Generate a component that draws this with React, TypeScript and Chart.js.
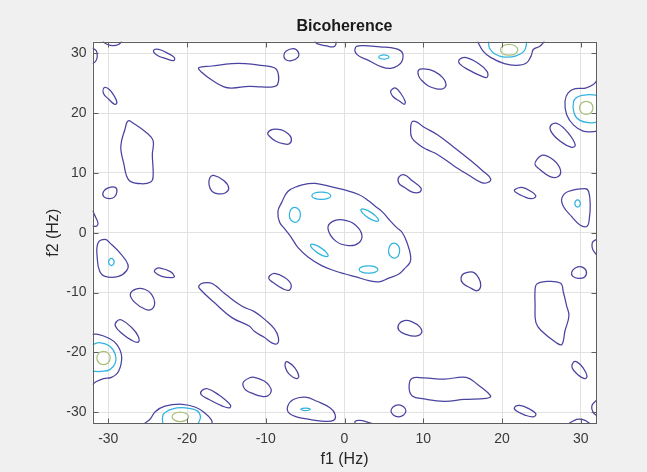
import React, { useEffect, useRef } from 'react';
import { Chart, registerables } from 'chart.js';

Chart.register(...registerables);

type Pt = [number, number];

// ---- axes ----
const xTicks = [-30, -20, -10, 0, 10, 20, 30];
const yTicks = [-30, -20, -10, 0, 10, 20, 30];
const xRange: Pt = [-32, 32];
const yRange: Pt = [-32, 32];

const titleText = 'Bicoherence';
const xLabel = 'f1 (Hz)';
const yLabel = 'f2 (Hz)';

// ---- level 1 (lowest) closed contours ----
const l1TopBar: Pt[] = [[-18.5, 27.6], [-16.8, 27.9], [-14.3, 28.3], [-12.6, 28.3], [-10.6, 28.0], [-8.9, 27.6], [-8.4, 26.5], [-8.5, 24.8], [-9.1, 24.4], [-10.6, 24.4], [-12.1, 24.5], [-14.3, 24.2], [-15.3, 24.4], [-16.8, 25.5], [-18.1, 26.8]];
const l1A: Pt[] = [[-24.25, 30.5], [-23.6, 30.7], [-22.55, 30.1], [-21.6, 29.3], [-21.7, 28.8], [-22.6, 29.1], [-23.8, 29.7]];
const l1B: Pt[] = [[-30.5, 24.3], [-29.9, 24.0], [-29.3, 23.0], [-28.9, 21.8], [-29.2, 21.5], [-29.9, 22.3], [-30.6, 23.3]];
const l1C: Pt[] = [[-27.5, 18.7], [-26.9, 18.4], [-25.1, 16.7], [-24.3, 15.4], [-24.4, 13.1], [-24.3, 9.4], [-24.6, 8.5], [-25.8, 8.2], [-27.2, 8.6], [-27.7, 9.6], [-28.0, 11.4], [-28.4, 13.9], [-28.3, 15.4], [-27.9, 17.2]];
const l1D: Pt[] = [[-16.6, 9.6], [-15.3, 8.7], [-14.7, 7.5], [-15.1, 6.7], [-16.0, 6.5], [-16.8, 6.9], [-17.2, 8.0], [-17.1, 9.2]];
const l1E: Pt[] = [[-30.6, 6.9], [-30.0, 7.5], [-29.1, 7.6], [-28.9, 6.9], [-29.2, 6.0], [-29.9, 5.7], [-30.6, 6.1]];
const l1F: Pt[] = [[-7.4, 30.4], [-6.5, 30.8], [-5.9, 30.3], [-5.9, 29.4], [-6.75, 28.8], [-7.5, 29.0], [-7.7, 29.7]];
const l1G: Pt[] = [[1.4, 31.0], [2.2, 31.3], [4.5, 31.1], [6.5, 30.8], [7.35, 30.1], [7.3, 28.7], [6.7, 27.9], [5.85, 27.5], [4.8, 27.7], [3.1, 28.8], [1.6, 29.8]];
const l1H: Pt[] = [[9.4, 27.2], [10.1, 27.4], [11.4, 27.0], [12.5, 25.9], [12.9, 24.8], [12.5, 24.1], [11.6, 24.1], [10.6, 24.6], [9.8, 25.5], [9.4, 26.3]];
const l1I: Pt[] = [[6.05, 24.0], [6.5, 24.2], [7.1, 23.4], [7.7, 22.0], [7.6, 21.5], [7.0, 22.0], [6.15, 22.8], [5.85, 23.6]];
const l1J: Pt[] = [[-9.75, 16.7], [-9.1, 17.3], [-8.0, 17.2], [-7.2, 16.6], [-6.75, 15.8], [-7.0, 14.9], [-7.8, 14.9], [-8.7, 15.3], [-9.5, 16.1]];
const l1DiagUp: Pt[] = [[8.6, 18.6], [9.2, 18.5], [10.1, 17.65], [11.8, 16.4], [14.0, 14.2], [16.1, 12.0], [17.6, 10.3], [18.55, 9.05], [18.2, 8.4], [17.4, 8.4], [15.7, 9.7], [14.0, 11.1], [11.8, 13.1], [10.5, 13.9], [9.5, 14.7], [8.55, 15.9], [8.4, 17.5]];
const l1K: Pt[] = [[6.9, 9.3], [7.6, 9.7], [8.6, 8.7], [9.7, 7.5], [9.55, 6.8], [8.6, 6.8], [7.6, 7.6], [6.9, 8.3]];
const l1Center: Pt[] = [[-8.45, 3.6], [-8.0, 5.0], [-7.2, 6.9], [-5.9, 7.8], [-4.6, 8.2], [-3.7, 8.25], [-2.0, 7.8], [-0.1, 7.2], [1.8, 6.4], [3.1, 5.3], [3.9, 4.45], [4.8, 3.5], [5.6, 2.3], [6.6, 0.9], [7.35, 0.0], [8.0, -1.9], [8.4, -3.9], [8.3, -5.0], [7.55, -6.1], [6.9, -6.9], [5.6, -7.6], [4.4, -8.2], [3.1, -8.0], [1.5, -7.4], [0.1, -6.9], [-1.2, -6.4], [-2.9, -5.5], [-4.6, -4.1], [-5.9, -2.5], [-6.75, -0.8], [-7.5, 0.5], [-8.25, 1.8]];
const l1CenterHole: Pt[] = [[-2.1, 0.7], [-1.5, 1.9], [-0.2, 2.15], [1.3, 1.4], [2.2, -0.3], [1.8, -1.7], [0.5, -2.15], [-1.1, -1.4]];
const l1L: Pt[] = [[14.6, 29.0], [15.45, 29.3], [16.9, 28.4], [18.1, 27.0], [18.1, 26.0], [17.4, 26.2], [15.7, 27.3], [14.6, 28.3]];
const l1M: Pt[] = [[26.3, 18.1], [27.15, 18.2], [28.4, 16.7], [29.3, 14.7], [28.85, 14.3], [27.4, 15.3], [26.2, 17.0]];
const l1N: Pt[] = [[24.4, 12.2], [25.2, 13.0], [26.5, 12.2], [27.4, 10.6], [27.15, 9.4], [26.1, 9.4], [24.8, 10.6], [24.2, 11.4]];
const l1O: Pt[] = [[21.6, 7.2], [22.5, 7.6], [23.7, 6.9], [24.3, 6.1], [23.7, 5.7], [22.7, 6.1], [21.7, 6.8]];
const l1P: Pt[] = [[27.6, 5.8], [28.4, 6.9], [30.55, 7.4], [31.0, 6.9], [31.2, 4.7], [31.1, 2.5], [30.8, 1.1], [29.9, 1.3], [28.85, 2.7], [27.8, 4.4]];
const l1Q: Pt[] = [[-31.3, -1.7], [-30.4, -1.1], [-29.8, -1.7], [-28.5, -3.4], [-27.5, -5.3], [-27.7, -6.4], [-28.7, -7.3], [-30.4, -7.3], [-31.1, -6.4], [-31.4, -4.2]];
const l1R: Pt[] = [[-24.0, -6.1], [-23.4, -5.9], [-22.1, -6.5], [-21.6, -7.3], [-21.9, -7.5], [-23.2, -7.3], [-24.1, -6.6]];
const l1S: Pt[] = [[-27.2, -10.3], [-26.4, -9.4], [-25.3, -9.5], [-24.5, -10.3], [-24.1, -11.7], [-24.5, -12.8], [-25.3, -12.8], [-26.6, -11.7]];
const l1T: Pt[] = [[-28.9, -14.8], [-28.3, -14.6], [-27.0, -15.9], [-26.2, -17.3], [-26.2, -18.3], [-27.0, -18.0], [-28.3, -16.8], [-29.1, -15.6]];
const l1DiagLow: Pt[] = [[-18.5, -8.9], [-17.9, -8.4], [-16.8, -8.5], [-15.1, -10.3], [-13.0, -12.3], [-11.45, -13.2], [-9.95, -14.7], [-8.9, -16.1], [-8.4, -17.5], [-8.5, -18.5], [-9.1, -18.5], [-10.2, -17.5], [-11.45, -16.5], [-12.1, -15.6], [-14.3, -14.2], [-16.6, -11.6], [-18.3, -9.5]];
const l1U: Pt[] = [[-18.1, -26.4], [-17.4, -26.1], [-16.0, -27.1], [-14.5, -28.8], [-14.6, -29.3], [-15.5, -29.0], [-17.2, -27.9], [-18.2, -27.1]];
const l1V: Pt[] = [[-12.8, -24.9], [-12.1, -24.3], [-11.45, -24.2], [-10.2, -24.8], [-9.55, -25.6], [-9.3, -26.5], [-9.75, -27.3], [-10.6, -27.35], [-11.45, -27.0], [-12.55, -26.3], [-12.9, -25.5]];
const l1W: Pt[] = [[-9.5, -7.2], [-8.9, -6.8], [-7.6, -7.5], [-6.8, -8.6], [-7.0, -9.6], [-7.8, -9.4], [-9.1, -8.3], [-9.6, -7.7]];
const l1X: Pt[] = [[-7.5, -21.7], [-7.2, -21.6], [-6.3, -22.6], [-5.8, -24.0], [-6.1, -24.4], [-7.0, -23.7], [-7.5, -22.6]];
const l1Y: Pt[] = [[-7.2, -29.0], [-6.5, -27.9], [-5.0, -27.5], [-3.5, -28.2], [-1.85, -29.3], [-1.2, -30.4], [-1.4, -31.4], [-2.9, -31.5], [-4.6, -31.2], [-6.1, -30.8], [-7.1, -30.1]];
const l1Z: Pt[] = [[6.9, -15.3], [7.6, -14.7], [8.6, -14.9], [9.55, -15.75], [9.8, -16.7], [9.05, -17.3], [7.8, -17.0], [6.9, -16.3]];
const l1BottomBar: Pt[] = [[8.55, -24.4], [10.1, -24.3], [12.7, -24.5], [15.45, -24.2], [16.9, -25.4], [18.55, -27.3], [18.0, -27.7], [15.2, -27.9], [12.7, -28.2], [10.1, -27.8], [8.6, -27.3], [8.2, -25.9]];
const l1AA: Pt[] = [[6.85, -28.8], [7.5, -29.1], [7.8, -29.8], [7.5, -30.5], [6.85, -30.8], [6.2, -30.5], [5.9, -29.8], [6.2, -29.1]];
const l1AB: Pt[] = [[14.8, -7.5], [15.2, -6.8], [16.3, -6.6], [17.05, -7.6], [17.3, -8.9], [16.85, -9.7], [16.1, -9.3], [15.0, -8.4]];
const l1AC: Pt[] = [[24.4, -8.6], [25.2, -8.2], [27.4, -8.4], [27.8, -10.0], [28.2, -12.2], [28.5, -13.9], [28.0, -16.4], [27.6, -18.7], [26.9, -18.4], [25.0, -16.4], [24.3, -15.0], [24.2, -12.0], [24.2, -9.5]];
const l1AD: Pt[] = [[28.85, -6.6], [29.3, -5.9], [30.1, -5.7], [30.7, -6.4], [30.5, -7.4], [29.7, -7.65], [29.0, -7.3]];
const l1AE: Pt[] = [[29.05, -21.7], [29.5, -21.6], [30.3, -22.6], [30.8, -24.0], [30.5, -24.4], [29.6, -23.7], [28.9, -22.6]];
const l1AF: Pt[] = [[21.6, -29.2], [22.25, -28.9], [23.5, -29.5], [24.3, -30.3], [24.0, -30.8], [22.9, -30.5], [21.8, -29.8]];

// ---- level 1 contours cut by the axes box ----
const l1EdgeTopL: Pt[] = [[-30.7, 32], [-30.1, 31.5], [-29.4, 31.3], [-28.7, 31.5], [-28.3, 32]];
const l1EdgeLeftT: Pt[] = [[-32, 30.9], [-31.5, 30.4], [-31.4, 29.5], [-31.6, 28.7], [-32, 28.3]];
const l1EdgeLeftM: Pt[] = [[-32, 3.7], [-31.6, 2.6], [-31.3, 1.6], [-31.5, 1.1], [-32, 1.1]];
const l1EdgeTopM: Pt[] = [[-3.8, 32], [-3.4, 31.6], [-2.4, 31.3], [-1.4, 31.1], [-1.1, 31.5], [-1.1, 32]];
const l1EdgeTopR: Pt[] = [[16.9, 32], [17.6, 30.4], [18.6, 29.3], [20.3, 28.3], [21.8, 28.0], [23.1, 28.4], [23.7, 29.6], [24.0, 30.7], [24.8, 31.2], [25.4, 32]];
const l1EdgeRightT: Pt[] = [[32, 25.4], [31.6, 24.8], [30.6, 24.2], [29.3, 24.1], [28.4, 23.4], [28.0, 22.0], [28.2, 19.8], [29.1, 18.0], [30.3, 17.0], [31.6, 16.9], [32, 17.0]];
const l1EdgeLeftB: Pt[] = [[-32, -17.0], [-31.3, -17.0], [-30.0, -17.6], [-28.9, -18.7], [-28.3, -20.7], [-28.7, -23.2], [-29.6, -24.2], [-30.6, -24.4], [-31.5, -24.9], [-32, -25.4]];
const l1EdgeBotL: Pt[] = [[-25.5, -32], [-24.7, -31.2], [-24.0, -29.9], [-22.8, -29.0], [-20.6, -28.7], [-18.9, -29.2], [-17.7, -30.2], [-16.9, -31.3], [-16.8, -32]];
const l1EdgeBotM: Pt[] = [[1.3, -32], [1.4, -31.5], [2.0, -31.4], [2.7, -31.6], [3.7, -32]];
const l1EdgeRightM: Pt[] = [[32, -1.1], [31.5, -1.6], [31.5, -2.7], [32, -3.7]];
const l1EdgeRightB: Pt[] = [[32, -28.0], [31.4, -29.0], [31.6, -30.1], [32, -30.6]];
const l1EdgeBotR: Pt[] = [[28.4, -32], [29.05, -31.5], [29.7, -31.2], [30.55, -31.4], [31.2, -32]];

// ---- level 2 contours ----
const l2A: Pt[] = [[-4.15, 6.2], [-3.8, 6.65], [-2.95, 6.8], [-2.1, 6.65], [-1.75, 6.2], [-2.1, 5.75], [-2.95, 5.6], [-3.8, 5.75]];
const l2B: Pt[] = [[-6.3, 4.25], [-5.75, 3.8], [-5.6, 3.0], [-5.8, 2.1], [-6.3, 1.75], [-6.85, 2.2], [-7.0, 3.0], [-6.8, 3.9]];
const l2C: Pt[] = [[4.3, 2.0], [4.12, 2.58], [3.41, 3.37], [2.58, 3.91], [2.1, 3.9], [2.28, 3.32], [2.99, 2.53], [3.82, 1.99]];
const l2D: Pt[] = [[-4.3, -2.0], [-4.12, -2.58], [-3.41, -3.37], [-2.58, -3.91], [-2.1, -3.9], [-2.28, -3.32], [-2.99, -2.53], [-3.82, -1.99]];
const l2E: Pt[] = [[6.3, -4.25], [5.75, -3.8], [5.6, -3.0], [5.8, -2.1], [6.3, -1.75], [6.85, -2.2], [7.0, -3.0], [6.8, -3.9]];
const l2F: Pt[] = [[1.85, -6.15], [2.2, -5.7], [3.05, -5.55], [3.9, -5.7], [4.25, -6.15], [3.9, -6.6], [3.05, -6.75], [2.2, -6.6]];
const l2G: Pt[] = [[4.35, 29.4], [4.55, 29.65], [5.0, 29.75], [5.45, 29.65], [5.65, 29.4], [5.45, 29.15], [5.0, 29.05], [4.55, 29.15]];
const l2H: Pt[] = [[29.6, 5.5], [29.85, 5.3], [29.95, 4.9], [29.85, 4.5], [29.6, 4.3], [29.35, 4.5], [29.25, 4.9], [29.35, 5.3]];
const l2I: Pt[] = [[-29.6, -4.3], [-29.35, -4.5], [-29.25, -4.9], [-29.35, -5.3], [-29.6, -5.5], [-29.85, -5.3], [-29.95, -4.9], [-29.85, -4.5]];
const l2J: Pt[] = [[-5.55, -29.55], [-5.35, -29.4], [-4.95, -29.33], [-4.55, -29.4], [-4.35, -29.55], [-4.55, -29.7], [-4.95, -29.77], [-5.35, -29.7]];
const l2EdgeTop: Pt[] = [[18.3, 32], [18.4, 30.9], [19.1, 29.9], [20.3, 29.4], [21.8, 29.6], [22.8, 30.4], [23.1, 31.5], [23.1, 32]];
const l2EdgeRight: Pt[] = [[32, 23.0], [31.0, 23.1], [29.7, 22.8], [29.1, 22.0], [29.15, 20.0], [29.9, 18.8], [31.2, 18.4], [32, 18.5]];
const l2EdgeLeft: Pt[] = [[-32, -18.7], [-31.1, -18.4], [-29.8, -19.0], [-29.1, -20.4], [-29.1, -21.8], [-29.8, -22.9], [-30.9, -23.2], [-32, -23.2]];
const l2EdgeBot: Pt[] = [[-23.1, -32], [-23.0, -30.4], [-21.9, -29.5], [-20.2, -29.3], [-18.7, -29.8], [-18.3, -30.7], [-18.5, -31.7], [-18.7, -32]];

// ---- level 3 contours ----
const l3A: Pt[] = [[19.8, 30.6], [20.1, 31.25], [20.9, 31.5], [21.7, 31.25], [22.0, 30.6], [21.7, 29.95], [20.9, 29.7], [20.1, 29.95]];
const l3B: Pt[] = [[30.7, 22.0], [31.3, 21.7], [31.55, 20.9], [31.3, 20.1], [30.7, 19.8], [30.1, 20.1], [29.85, 20.9], [30.1, 21.7]];
const l3C: Pt[] = [[-30.6, -19.85], [-30.0, -20.15], [-29.75, -20.95], [-30.0, -21.75], [-30.6, -22.05], [-31.2, -21.75], [-31.45, -20.95], [-31.2, -20.15]];
const l3D: Pt[] = [[-21.9, -30.8], [-21.6, -30.25], [-20.85, -30.0], [-20.1, -30.25], [-19.8, -30.8], [-20.1, -31.35], [-20.85, -31.6], [-21.6, -31.35]];

const level1Closed = [l1TopBar, l1A, l1B, l1C, l1D, l1E, l1F, l1G, l1H, l1I, l1J, l1DiagUp, l1K, l1Center, l1CenterHole, l1L, l1M, l1N, l1O, l1P, l1Q, l1R, l1S, l1T, l1DiagLow, l1U, l1V, l1W, l1X, l1Y, l1Z, l1BottomBar, l1AA, l1AB, l1AC, l1AD, l1AE, l1AF];
const level1Open = [l1EdgeTopL, l1EdgeLeftT, l1EdgeLeftM, l1EdgeTopM, l1EdgeTopR, l1EdgeRightT, l1EdgeLeftB, l1EdgeBotL, l1EdgeBotM, l1EdgeRightM, l1EdgeRightB, l1EdgeBotR];
const level2Closed = [l2A, l2B, l2C, l2D, l2E, l2F, l2G, l2H, l2I, l2J];
const level2Open = [l2EdgeTop, l2EdgeRight, l2EdgeLeft, l2EdgeBot];
const level3Closed = [l3A, l3B, l3C, l3D];

const levelColors = ['#4a43a0', '#30b4df', '#a9c07c'];

const FONT = "'Liberation Sans', Arial, Helvetica, sans-serif";

const loopPlugin = {
  id: 'closedContours',
  afterDatasetsUpdate(chart: any) {
    chart.data.datasets.forEach((ds: any, i: number) => {
      if (!ds.closedLoop) return;
      const meta = chart.getDatasetMeta(i);
      const line = meta && meta.dataset;
      if (!line) return;
      line._loop = true;
      line._fullLoop = true;
      delete line._segments;
      delete line._path;
      line._pointsUpdated = false;
      if (typeof line.updateControlPoints === 'function') {
        line.updateControlPoints(chart.chartArea, 'x');
      }
    });
  },
};

const framePlugin = {
  id: 'matlabFrame',
  beforeDraw(chart: any) {
    const { ctx, chartArea: a } = chart;
    ctx.save();
    ctx.fillStyle = '#ffffff';
    ctx.fillRect(a.left, a.top, a.right - a.left, a.bottom - a.top);
    ctx.restore();
  },
  afterDraw(chart: any) {
    const { ctx, chartArea: a, scales } = chart;
    const L = Math.round(a.left) + 0.5;
    const R = Math.round(a.right) - 0.5;
    const T = Math.round(a.top) + 0.5;
    const B = Math.round(a.bottom) - 0.5;
    ctx.save();
    ctx.strokeStyle = '#5e5e5e';
    ctx.lineWidth = 1;
    ctx.beginPath();
    const tl = 5;
    scales.x.ticks.forEach((t: any) => {
      const px = Math.round(scales.x.getPixelForValue(t.value)) + 0.5;
      ctx.moveTo(px, B); ctx.lineTo(px, B - tl);
      ctx.moveTo(px, T); ctx.lineTo(px, T + tl);
    });
    scales.y.ticks.forEach((t: any) => {
      const py = Math.round(scales.y.getPixelForValue(t.value)) + 0.5;
      ctx.moveTo(L, py); ctx.lineTo(L + tl, py);
      ctx.moveTo(R, py); ctx.lineTo(R - tl, py);
    });
    ctx.stroke();
    ctx.strokeRect(L, T, R - L, B - T);
    ctx.restore();
  },
};

function makeDataset(pts: Pt[], color: string, closed: boolean) {
  return {
    type: 'scatter',
    data: pts.map(([x, y]) => ({ x, y })),
    showLine: true,
    borderColor: color,
    backgroundColor: color,
    borderWidth: 1.25,
    pointRadius: 0,
    pointHoverRadius: 0,
    tension: 0.42,
    fill: false,
    closedLoop: closed,
  };
}

export default function App() {
  const ref = useRef<HTMLCanvasElement | null>(null);

  useEffect(() => {
    if (!ref.current) return;
    const datasets: any[] = [
      ...level1Closed.map((c) => makeDataset(c, levelColors[0], true)),
      ...level1Open.map((c) => makeDataset(c, levelColors[0], false)),
      ...level2Closed.map((c) => makeDataset(c, levelColors[1], true)),
      ...level2Open.map((c) => makeDataset(c, levelColors[1], false)),
      ...level3Closed.map((c) => makeDataset(c, levelColors[2], true)),
    ];

    const tickFont = { family: FONT, size: 14 };
    const chart = new Chart(ref.current, {
      type: 'scatter',
      data: { datasets },
      plugins: [loopPlugin, framePlugin],
      options: {
        animation: false,
        responsive: false,
        devicePixelRatio: 1,
        events: [],
        layout: { padding: { top: 0, left: 0, right: 50.5, bottom: 0 } },
        plugins: {
          legend: { display: false },
          tooltip: { enabled: false },
          title: {
            display: true,
            text: titleText,
            fullSize: false,
            color: '#1a1a1a',
            font: { family: FONT, size: 16, weight: 'bold' },
            padding: { top: 17, bottom: 5.3 },
          },
        },
        scales: {
          x: {
            type: 'linear',
            min: xRange[0],
            max: xRange[1],
            afterBuildTicks: (s: any) => { s.ticks = xTicks.map((v) => ({ value: v })); },
            afterFit: (s: any) => { s.height = 48; },
            grid: { color: '#e2e2e2', lineWidth: 1, drawTicks: false },
            border: { display: false },
            ticks: { font: tickFont, color: '#3a3a3a', padding: 7, maxRotation: 0, autoSkip: false },
            title: { display: true, text: xLabel, color: '#262626', font: { family: FONT, size: 16 }, padding: { top: 0, bottom: 3 } },
          },
          y: {
            type: 'linear',
            min: yRange[0],
            max: yRange[1],
            afterBuildTicks: (s: any) => { s.ticks = yTicks.map((v) => ({ value: v })); },
            afterFit: (s: any) => { s.width = 92.5; },
            grid: { color: '#e2e2e2', lineWidth: 1, drawTicks: false },
            border: { display: false },
            ticks: { font: tickFont, color: '#3a3a3a', padding: 6, autoSkip: false },
            title: { display: true, text: yLabel, color: '#262626', font: { family: FONT, size: 16 }, padding: { top: 44, bottom: 0 } },
          },
        },
      } as any,
    } as any);
    return () => chart.destroy();
  }, []);

  return (
    <div style={{ position: 'absolute', left: 0, top: 0, width: 647, height: 472, background: '#f0f0f0' }}>
      <canvas ref={ref} width={647} height={472} style={{ width: 647, height: 472, display: 'block' }} />
    </div>
  );
}
